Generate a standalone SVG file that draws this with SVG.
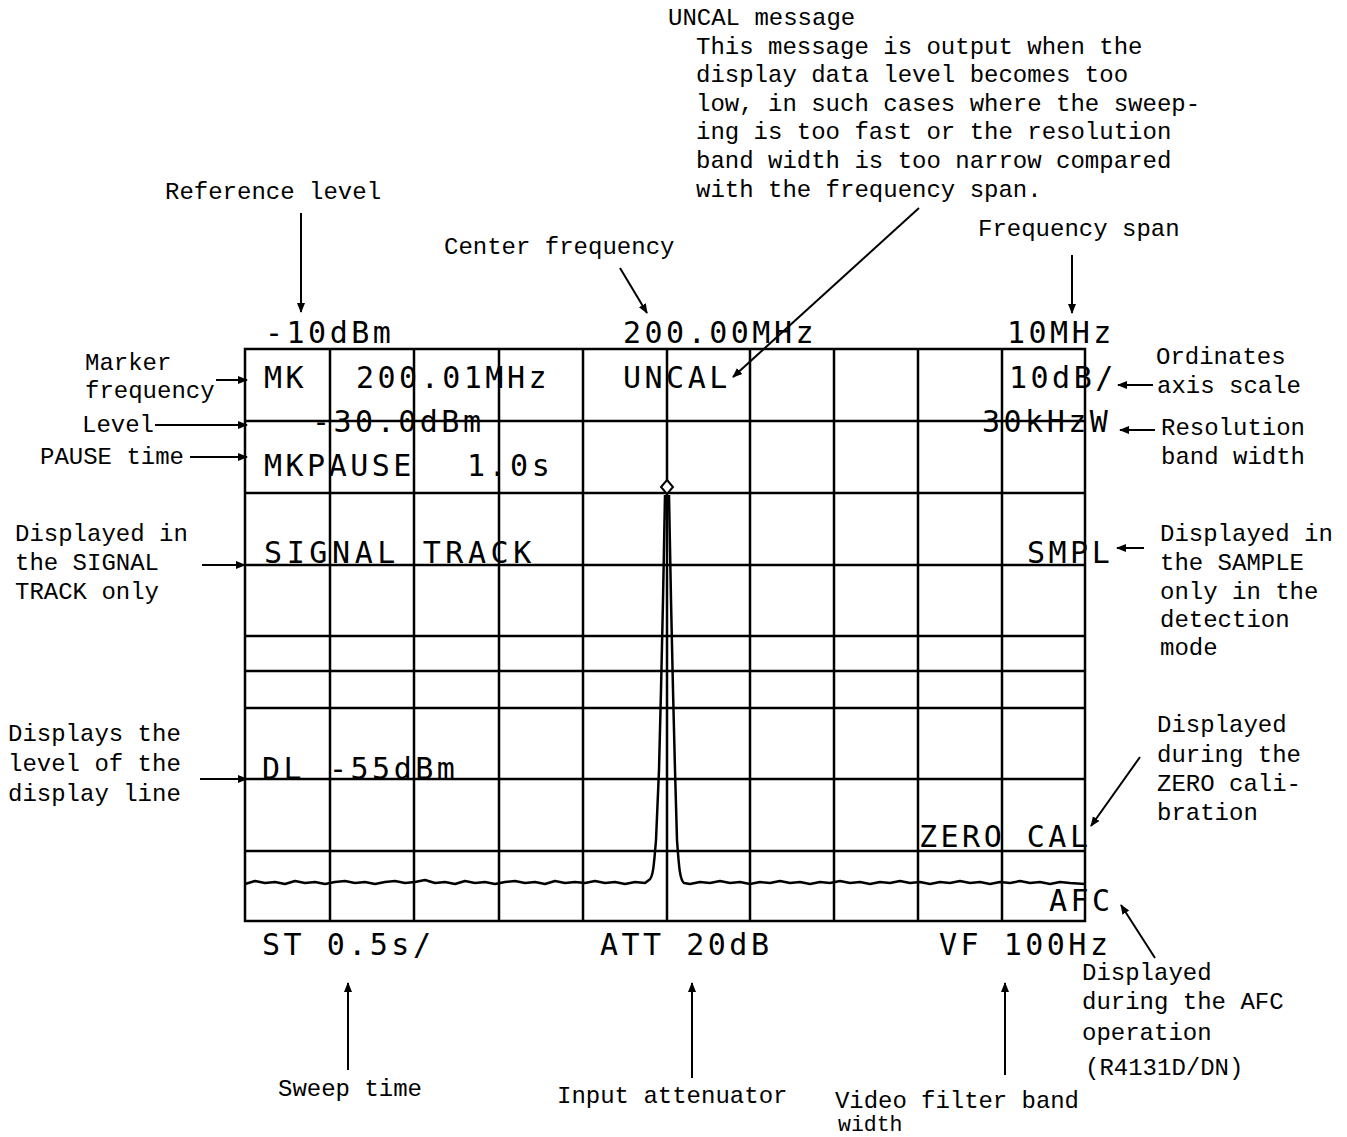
<svg xmlns="http://www.w3.org/2000/svg" width="1347" height="1137" viewBox="0 0 1347 1137">
<style>
.ann{font-family:"Liberation Mono","Courier New",monospace;font-size:24px;fill:#000}
.small{font-size:21.5px}
.disp{font-family:"DejaVu Sans Mono","Liberation Mono",monospace;font-size:30px;letter-spacing:3.5px;fill:#000}
.wide{letter-spacing:4.6px}
.grid{stroke:#000;stroke-width:2.5;fill:none}
.trace{stroke:#000;stroke-width:2.5;fill:none;stroke-linejoin:round}
.conn{stroke:#000;stroke-width:2;fill:none}
</style>
<defs>
<marker id="ah" viewBox="0 0 10 10" refX="9" refY="5" markerWidth="10" markerHeight="10" markerUnits="userSpaceOnUse" orient="auto">
<path d="M0,1 L10,5 L0,9 Z" fill="#000"/>
</marker>
</defs>
<rect width="1347" height="1137" fill="#fff"/>

<g id="screen">
<g id="grid">
<rect class="grid" x="245" y="349" width="840" height="572"/>
<path class="grid" d="M330,349V921 M414,349V921 M499,349V921 M583,349V921 M667,349V921 M750,349V921 M834,349V921 M918,349V921 M1002,349V921"/>
<path class="grid" d="M245,421H1085 M245,493H1085 M245,565H1085 M245,636H1085 M245,671H1085 M245,708H1085 M245,779H1085 M245,851H1085"/>
</g>
<g id="trace">
<path class="trace" d="M245,884 L255,881 265,883 275,882 285,884 295,881 305,883 315,882 325,884 335,882 345,881 355,883 365,882 375,884 385,882 395,881 405,883 415,882 425,880 435,883 445,882 455,884 465,881 475,883 485,882 495,884 505,882 515,881 525,883 535,882 545,884 555,881 565,883 575,882 585,883 595,881 605,883 615,882 625,884 635,882 645,883 649,880 C653,878 654,865 656,840 L659,770 661,690 663,600 665,495 M669,495 L671,600 673,690 675,770 677,840 C679,868 680,880 684,883 L690,884 700,882 710,883 720,881 730,883 740,882 750,884 760,882 770,883 780,881 790,883 800,882 810,884 820,882 830,883 840,881 850,883 860,882 870,884 880,882 890,883 900,881 910,883 920,882 930,884 940,882 950,883 960,881 970,883 980,882 990,884 1000,882 1010,883 1020,881 1030,883 1040,882 1050,884 1060,882 1070,883 1085,884"/>
<path d="M667,480 L673,487 L667,494 L661,487 Z" fill="#fff" stroke="#000" stroke-width="2"/>
</g>
<g id="display-text">
<text class="disp" x="265" y="343">-10dBm</text>
<text class="disp" x="623" y="343">200.00MHz</text>
<text class="disp" x="1007" y="343">10MHz</text>
<text class="disp" x="264" y="388">MK</text>
<text class="disp" x="356" y="388">200.01MHz</text>
<text class="disp" x="623" y="388">UNCAL</text>
<text class="disp" x="1009" y="388">10dB/</text>
<text class="disp" x="312" y="432">-30.0dBm</text>
<text class="disp" x="982" y="432">30kHzW</text>
<text class="disp" x="264" y="476">MKPAUSE</text>
<text class="disp" x="467" y="476">1.0s</text>
<text class="disp wide" x="264" y="563">SIGNAL TRACK</text>
<text class="disp" x="1027" y="563">SMPL</text>
<text class="disp" x="262" y="779">DL</text>
<text class="disp" x="329" y="779">-55dBm</text>
<text class="disp" x="919" y="847">ZERO CAL</text>
<text class="disp" x="1049" y="911">AFC</text>
<text class="disp" x="262" y="955">ST 0.5s/</text>
<text class="disp" x="600" y="955">ATT 20dB</text>
<text class="disp" x="939" y="955">VF 100Hz</text>
</g>
</g>

<g id="annotations">
<g id="n-reflevel"><text class="ann" x="165" y="199">Reference level</text></g>
<g id="n-center"><text class="ann" x="444" y="254">Center frequency</text></g>
<g id="n-span"><text class="ann" x="978" y="236">Frequency span</text></g>
<g id="n-uncal">
<text class="ann" x="668" y="25">UNCAL message</text>
<text class="ann" x="696" y="54">This message is output when the</text>
<text class="ann" x="696" y="82">display data level becomes too</text>
<text class="ann" x="696" y="111">low, in such cases where the sweep-</text>
<text class="ann" x="696" y="139">ing is too fast or the resolution</text>
<text class="ann" x="696" y="168">band width is too narrow compared</text>
<text class="ann" x="696" y="197">with the frequency span.</text>
</g>
<g id="n-marker"><text class="ann" x="85" y="370">Marker</text><text class="ann" x="85" y="398">frequency</text></g>
<g id="n-level"><text class="ann" x="82" y="432">Level</text></g>
<g id="n-pause"><text class="ann" x="40" y="464">PAUSE time</text></g>
<g id="n-signal"><text class="ann" x="15" y="541">Displayed in</text><text class="ann" x="15" y="570">the SIGNAL</text><text class="ann" x="15" y="599">TRACK only</text></g>
<g id="n-dl"><text class="ann" x="8" y="741">Displays the</text><text class="ann" x="8" y="771">level of the</text><text class="ann" x="8" y="801">display line</text></g>
<g id="n-ord"><text class="ann" x="1156" y="364">Ordinates</text><text class="ann" x="1157" y="393">axis scale</text></g>
<g id="n-res"><text class="ann" x="1161" y="435">Resolution</text><text class="ann" x="1161" y="464">band width</text></g>
<g id="n-sample"><text class="ann" x="1160" y="541">Displayed in</text><text class="ann" x="1160" y="570">the SAMPLE</text><text class="ann" x="1160" y="599">only in the</text><text class="ann" x="1160" y="627">detection</text><text class="ann" x="1160" y="655">mode</text></g>
<g id="n-zero"><text class="ann" x="1157" y="732">Displayed</text><text class="ann" x="1157" y="762">during the</text><text class="ann" x="1157" y="791">ZERO cali-</text><text class="ann" x="1157" y="820">bration</text></g>
<g id="n-afc"><text class="ann" x="1082" y="980">Displayed</text><text class="ann" x="1082" y="1009">during the AFC</text><text class="ann" x="1082" y="1040">operation</text><text class="ann" x="1085" y="1075">(R4131D/DN)</text></g>
<g id="n-sweep"><text class="ann" x="278" y="1096">Sweep time</text></g>
<g id="n-att"><text class="ann" x="557" y="1103">Input attenuator</text></g>
<g id="n-vf"><text class="ann" x="835" y="1108" textLength="244">Video filter band</text><text class="ann small" x="838" y="1131">width</text></g>
</g>

<g id="connectors">
<line class="conn" x1="301" y1="213" x2="301" y2="312" marker-end="url(#ah)"/>
<line class="conn" x1="620" y1="268" x2="647" y2="313" marker-end="url(#ah)"/>
<line class="conn" x1="1072" y1="255" x2="1072" y2="313" marker-end="url(#ah)"/>
<line class="conn" x1="919" y1="208" x2="733" y2="377" marker-end="url(#ah)"/>
<line class="conn" x1="216" y1="380" x2="247" y2="380" marker-end="url(#ah)"/>
<line class="conn" x1="155" y1="425" x2="247" y2="425" marker-end="url(#ah)"/>
<line class="conn" x1="190" y1="457" x2="247" y2="457" marker-end="url(#ah)"/>
<line class="conn" x1="202" y1="565" x2="245" y2="565" marker-end="url(#ah)"/>
<line class="conn" x1="200" y1="779" x2="247" y2="779" marker-end="url(#ah)"/>
<line class="conn" x1="1153" y1="385" x2="1118" y2="385" marker-end="url(#ah)"/>
<line class="conn" x1="1155" y1="430" x2="1120" y2="430" marker-end="url(#ah)"/>
<line class="conn" x1="1144" y1="548" x2="1117" y2="548" marker-end="url(#ah)"/>
<line class="conn" x1="1140" y1="757" x2="1091" y2="826" marker-end="url(#ah)"/>
<line class="conn" x1="1155" y1="958" x2="1121" y2="905" marker-end="url(#ah)"/>
<line class="conn" x1="348" y1="1070" x2="348" y2="983" marker-end="url(#ah)"/>
<line class="conn" x1="692" y1="1078" x2="692" y2="983" marker-end="url(#ah)"/>
<line class="conn" x1="1005" y1="1075" x2="1005" y2="983" marker-end="url(#ah)"/>
</g>
</svg>
